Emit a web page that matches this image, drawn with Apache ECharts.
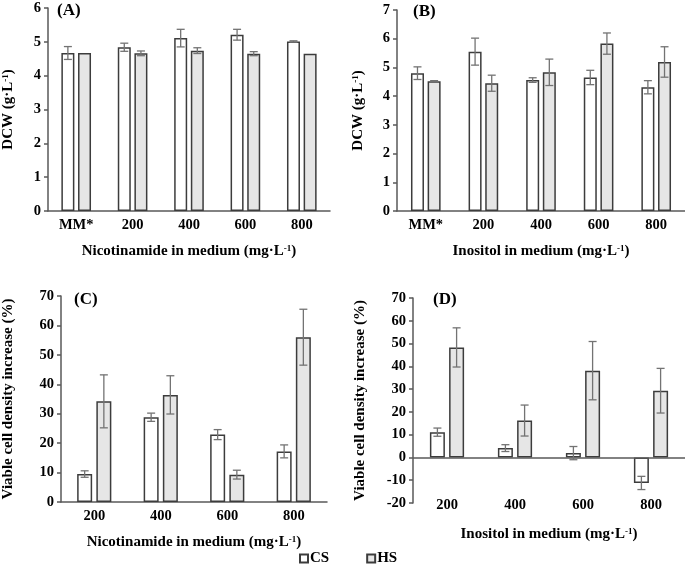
<!DOCTYPE html>
<html>
<head>
<meta charset="utf-8">
<script src="https://cdn.jsdelivr.net/npm/echarts@6/dist/echarts.min.js"></script>
<style>html,body{margin:0;padding:0;background:#fff}#c{width:685px;height:572px}</style>
</head>
<body>
<div id="c"></div>
<script>
const catsAB = ['MM*', '200', '400', '600', '800'];
const catsCD = ['200', '400', '600', '800'];

const aCS = [4.67, 4.84, 5.11, 5.21, 5.01];
const aCSErr = [0.19, 0.12, 0.26, 0.16, 0.02];
const aHS = [4.67, 4.66, 4.74, 4.65, 4.65];
const aHSErr = [0, 0.07, 0.085, 0.06, 0];

const bCS = [4.80, 5.55, 4.56, 4.65, 4.31];
const bCSErr = [0.22, 0.47, 0.08, 0.25, 0.23];
const bHS = [4.52, 4.45, 4.83, 5.83, 5.19];
const bHSErr = [0.02, 0.28, 0.46, 0.37, 0.53];

const cCS = [9.5, 28.8, 22.9, 17.2];
const cCSErr = [1.1, 1.4, 1.7, 2.2];
const cHS = [34.2, 36.4, 9.3, 56.0];
const cHSErr = [9.0, 6.5, 1.5, 9.5];

const dCS = [11.1, 4.1, 1.9, -11.2];
const dCSErr = [1.8, 1.5, 2.9, 2.9];
const dHS = [48.3, 16.2, 38.1, 29.3];
const dHSErr = [8.6, 6.8, 12.8, 9.8];

const FONT = 'Liberation Serif';
const AXC = '#595959';
const BORDER = '#3c3c3c';
const ERRC = '#737373';
const TICK_FS = 14.5;
const NAME_FS = 15;

const chart = echarts.init(document.getElementById('c'));

const rich = {
  n: {fontFamily: FONT, fontWeight: 'bold', fontSize: NAME_FS, color: '#000'},
  s: {fontFamily: FONT, fontWeight: 'bold', fontSize: 9, color: '#000', verticalAlign: 'top', padding: [0, 0, 6, 0]}
};

function xAxis(idx, cats, name, opts) {
  return Object.assign({
    type: 'category', gridIndex: idx, data: cats,
    axisLine: {show: true, onZero: false, lineStyle: {color: AXC, width: 1.5}},
    axisTick: {show: false},
    axisLabel: {fontFamily: FONT, fontWeight: 'bold', fontSize: TICK_FS, color: '#000', margin: 7},
    name: name, nameLocation: 'middle', nameGap: 33,
    nameTextStyle: {rich: rich}
  }, opts || {});
}
function yAxis(idx, min, max, interval, name, gap) {
  return {
    type: 'value', gridIndex: idx, min: min, max: max, interval: interval,
    axisLine: {show: true, lineStyle: {color: AXC, width: 1.5}},
    axisTick: {show: true, length: 4, lineStyle: {color: AXC, width: 1.5}},
    splitLine: {show: false},
    axisLabel: {fontFamily: FONT, fontWeight: 'bold', fontSize: TICK_FS, color: '#000', margin: 7},
    name: name, nameLocation: 'middle', nameGap: gap, nameRotate: 90,
    nameTextStyle: {rich: rich}
  };
}
function bar(idx, name, vals, fill, bw, extra) {
  return Object.assign({
    type: 'bar', name: name, xAxisIndex: idx, yAxisIndex: idx, data: vals,
    barWidth: bw, barGap: '28%',
    itemStyle: {color: fill, borderColor: BORDER, borderWidth: 1.5},
    emphasis: {disabled: true}
  }, extra || {});
}
function err(idx, vals, errs, side, bw) {
  const gapPx = bw * 0.28;
  return {
    type: 'custom', xAxisIndex: idx, yAxisIndex: idx, z: 10, silent: true,
    encode: {x: 0, y: [1, 2]},
    data: vals.map((v, i) => [i, v - errs[i], v + errs[i]]),
    renderItem: function (params, api) {
      if (api.value(2) - api.value(1) <= 0) return {type: 'group', children: []};
      const lo = api.coord([api.value(0), api.value(1)]);
      const hi = api.coord([api.value(0), api.value(2)]);
      const x = lo[0] + side * (bw + gapPx) / 2;
      const cap = 4;
      const st = {stroke: ERRC, lineWidth: 1.3};
      return {type: 'group', children: [
        {type: 'line', shape: {x1: x, y1: lo[1], x2: x, y2: hi[1]}, style: st},
        {type: 'line', shape: {x1: x - cap, y1: lo[1], x2: x + cap, y2: lo[1]}, style: st},
        {type: 'line', shape: {x1: x - cap, y1: hi[1], x2: x + cap, y2: hi[1]}, style: st}
      ]};
    }
  };
}

const nameNic = '{n|Nicotinamide in medium (mg·L}{s|-1}{n|)}';
const nameIno = '{n|Inositol in medium (mg·L}{s|-1}{n|)}';
const nameDCW = '{n|DCW (g·L}{s|-1}{n|)}';
const nameVia = '{n|Viable cell density increase (%)}';

const WHITE = '#ffffff';
const GRAY = '#e6e6e6';

const option = {
  animation: false,
  backgroundColor: '#fff',
  title: [
    {text: '(A)', left: 55, top: 0},
    {text: '(B)', left: 411, top: 1},
    {text: '(C)', left: 72, top: 289},
    {text: '(D)', left: 431, top: 289}
  ].map(t => Object.assign(t, {padding: 2, textStyle: {fontFamily: FONT, fontWeight: 'bold', fontSize: 17, color: '#000'}})),
  legend: {
    data: ['CS', 'HS'], left: 294, top: 546, itemWidth: 8, itemHeight: 8, itemGap: 37,
    icon: 'rect',
    textStyle: {fontFamily: FONT, fontWeight: 'bold', fontSize: 15, color: '#000', padding: [0, 0, 0, -3]}
  },
  grid: [
    {left: 43, top: 8, width: 287, height: 203},
    {left: 397, top: 10, width: 288, height: 201},
    {left: 57, top: 296, width: 270, height: 206},
    {left: 413, top: 298, width: 272, height: 205}
  ],
  xAxis: [
    xAxis(0, catsAB, nameNic),
    xAxis(1, catsAB, nameIno),
    xAxis(2, catsCD, nameNic),
    xAxis(3, catsCD, nameIno, {
      axisLine: {show: false, onZero: false},
      axisLabel: {fontFamily: FONT, fontWeight: 'bold', fontSize: TICK_FS, color: '#000', margin: -5},
      nameGap: 24
    })
  ],
  yAxis: [
    yAxis(0, 0, 6, 1, nameDCW, 32),
    yAxis(1, 0, 7, 1, nameDCW, 31),
    yAxis(2, 0, 70, 10, nameVia, 45),
    yAxis(3, -20, 70, 10, nameVia, 45)
  ],
  series: [
    bar(0, 'CS', aCS, WHITE, 13), bar(0, 'HS', aHS, GRAY, 13),
    err(0, aCS, aCSErr, -1, 13), err(0, aHS, aHSErr, 1, 13),
    bar(1, 'CS', bCS, WHITE, 13), bar(1, 'HS', bHS, GRAY, 13),
    err(1, bCS, bCSErr, -1, 13), err(1, bHS, bHSErr, 1, 13),
    bar(2, 'CS', cCS, WHITE, 15), bar(2, 'HS', cHS, GRAY, 15),
    err(2, cCS, cCSErr, -1, 15), err(2, cHS, cHSErr, 1, 15),
    bar(3, 'CS', dCS, WHITE, 15, {
      markLine: {
        silent: true, symbol: 'none', label: {show: false},
        lineStyle: {color: AXC, width: 1.5, type: 'solid'},
        data: [{yAxis: 0}]
      }
    }),
    bar(3, 'HS', dHS, GRAY, 15),
    err(3, dCS, dCSErr, -1, 15), err(3, dHS, dHSErr, 1, 15)
  ]
};
chart.setOption(option);
</script>
</body>
</html>
